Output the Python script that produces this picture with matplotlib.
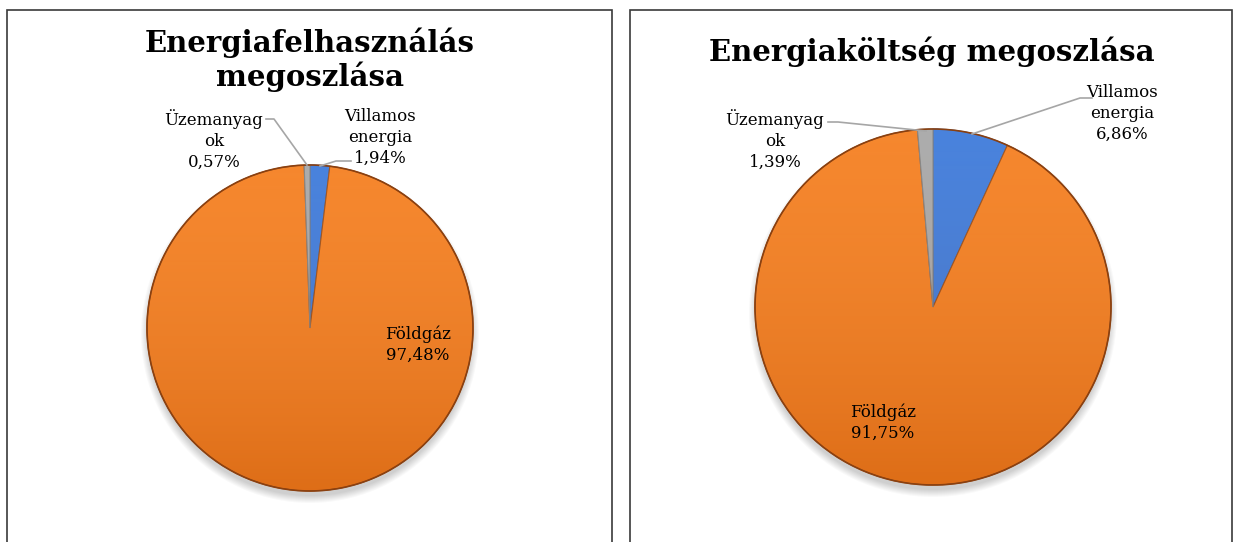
import numpy as np
import matplotlib.pyplot as plt
from matplotlib.patches import Rectangle, Circle

# Adatok
categories = ['Villamos\nenergia', 'Földgáz', 'Üzemanyag\nok']
usage_share = [1.94, 97.48, 0.57]
cost_share = [6.86, 91.75, 1.39]
usage_labels = ['1,94%', '97,48%', '0,57%']
cost_labels = ['6,86%', '91,75%', '1,39%']
colors = ['#3A78DA', '#F57D1C', '#A6A6A6']
edges = ['#2A5AA8', '#9C4A10', '#7F7F7F']

W, H = 1234, 542
fig = plt.figure(figsize=(W / 100, H / 100), dpi=100)
ax = fig.add_axes([0, 0, 1, 1])
ax.set_xlim(0, W)
ax.set_ylim(0, H)
ax.set_aspect('equal')
ax.axis('off')

font = 'DejaVu Serif'

# Keretek
ax.add_patch(Rectangle((7, -5), 605, H - 10 + 5, fill=False, ec='#3a3a3a', lw=1.2))
ax.add_patch(Rectangle((630, -5), 602, H - 10 + 5, fill=False, ec='#3a3a3a', lw=1.2))


def draw_pie(values, center, radius):
    cx, cy = center
    # árnyék
    for k in range(8):
        ax.add_patch(Circle((cx, cy - 6), radius + 6 - k, color='#000000',
                            alpha=0.025, lw=0, zorder=1))
    wedges, _ = ax.pie(values, colors=colors, startangle=90, counterclock=False,
                       center=center, radius=radius, frame=True,
                       wedgeprops=dict(linewidth=0.8))
    for w, ec in zip(wedges, edges):
        w.set_edgecolor(ec)
        w.set_zorder(2)
    # színátmenet (felül világosabb, alul sötétebb)
    grad = np.linspace(0, 1, 256).reshape(-1, 1)
    im = ax.imshow(grad, extent=(cx - radius, cx + radius, cy - radius, cy + radius),
                   cmap=plt.matplotlib.colors.LinearSegmentedColormap.from_list(
                       'g', [(0.45, 0.15, 0.0, 0.18), (1, 1, 1, 0.08)]),
                   origin='lower', zorder=3, aspect='auto', interpolation='bilinear')
    im.set_clip_path(Circle((cx, cy), radius, transform=ax.transData))
    ax.add_patch(Circle((cx, cy), radius, fill=False, ec='#8A4010', lw=1.2, zorder=4))
    return wedges


draw_pie(usage_share, (310, H - 328), 163)
draw_pie(cost_share, (933, H - 307), 178)
ax.set_xlim(0, W)
ax.set_ylim(0, H)
ax.axis('off')

# Címek
ax.text(310, H - 43, 'Energiafelhasználás', ha='center', va='center',
        fontsize=21, fontweight='bold', family=font, zorder=5)
ax.text(310, H - 77, 'megoszlása', ha='center', va='center',
        fontsize=21, fontweight='bold', family=font, zorder=5)
ax.text(932, H - 52, 'Energiaköltség megoszlása', ha='center', va='center',
        fontsize=21, fontweight='bold', family=font, zorder=5)

lab = dict(ha='center', va='center', fontsize=12, family=font, zorder=5,
           linespacing=1.3)
lc = dict(color='#A6A6A6', lw=1.2, zorder=5)

# Bal diagram feliratai
ax.text(380, H - 137, categories[0] + '\n' + usage_labels[0], **lab)
ax.text(214, H - 140, categories[2] + '\n' + usage_labels[2], **lab)
ax.text(418, H - 345, categories[1] + '\n' + usage_labels[1], **lab)
ax.plot([351, 336, 320], [H - 161, H - 161, H - 166], **lc)
ax.plot([266, 274, 307], [H - 119, H - 119, H - 165], **lc)

# Jobb diagram feliratai
ax.text(1122, H - 113, categories[0] + '\n' + cost_labels[0], **lab)
ax.text(775, H - 140, categories[2] + '\n' + cost_labels[2], **lab)
ax.text(883, H - 423, categories[1] + '\n' + cost_labels[1], **lab)
ax.plot([1092, 1080, 972], [H - 98, H - 98, H - 134], **lc)
ax.plot([828, 838, 926], [H - 122, H - 122, H - 131], **lc)

fig.savefig('out.png', dpi=100)
